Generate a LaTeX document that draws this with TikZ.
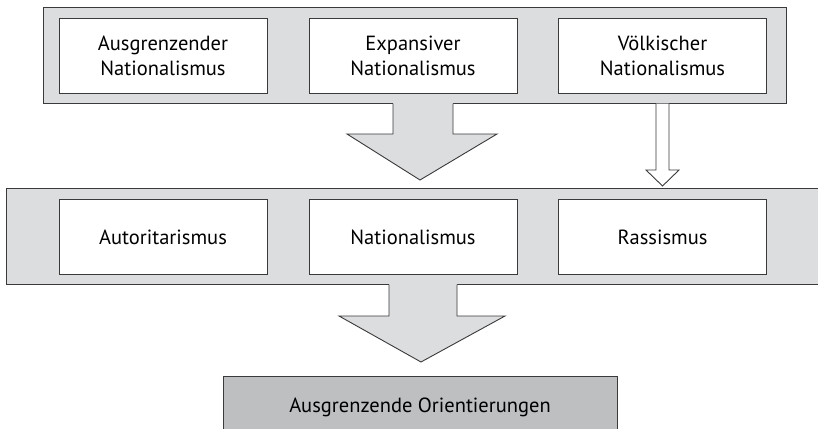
\documentclass[tikz,border=0pt]{standalone}
\usepackage{fontspec}
\setmainfont{PT Sans}
\definecolor{panelgray}{HTML}{DCDDDF}
\definecolor{resultgray}{HTML}{BEBFC1}
\definecolor{linegray}{HTML}{3A3A3A}
\tikzset{
  panel/.style={draw=linegray, fill=panelgray, line width=0.9pt, rectangle,
    inner sep=0pt},
  itembox/.style={draw=linegray, fill=white, line width=0.9pt, rectangle,
    minimum width=208pt, minimum height=75pt, align=center,
    font=\fontsize{20.5}{25}\selectfont},
  resultbox/.style={draw=linegray, fill=resultgray, line width=0.9pt,
    minimum width=394pt, minimum height=62pt, anchor=north,
    font=\fontsize{20.5}{25}\selectfont},
  blockarrow/.style={fill=panelgray},
  blockline/.style={draw=linegray, line width=0.9pt, line join=miter},
}
\begin{document}
\begin{tikzpicture}[x=1pt, y=-1pt]
  \useasboundingbox (0,0) rectangle (818,428);

  % 1. Rahmen (oben, Mitte)
  \node[panel, minimum width=743pt, minimum height=96pt] (top) at (414.5,55) {};
  \node[panel, minimum width=824pt, minimum height=96pt] (mid) at (418,236) {};

  % 2. Kaesten oben
  \node[itembox] (ausgrenz) at (163,55.5) {Ausgrenzender\\Nationalismus};
  \node[itembox] (expans)   at (413,55.5) {Expansiver\\Nationalismus};
  \node[itembox] (voelk)    at (662.5,55.5) {Völkischer\\Nationalismus};

  % 3. Kaesten Mitte
  \node[itembox] (autorit) at (163,237) {Autoritarismus};
  \node[itembox] (nation)  at (413,237) {Nationalismus};
  \node[itembox] (rass)    at (662.5,237) {Rassismus};

  % 4. Ergebnis
  \node[resultbox] (orient) at (420,375.5) {Ausgrenzende Orientierungen};

  % 5. Blockpfeil oben -> Mitte
  \fill[blockarrow] (393,103) -- (393,134) -- (347,134) -- (420,180)
    -- (497,134) -- (453,134) -- (453,103) -- cycle;
  \draw[blockline] (393,103.5) -- (393,134) -- (347,134) -- (420,180)
    -- (497,134) -- (453,134) -- (453,103.5);

  % 6. Hohlpfeil Voelkischer Nationalismus -> Rassismus
  \draw[blockline, fill=white] (656,103.5) -- (656,170) -- (646,170)
    -- (662.5,186) -- (679,170) -- (669,170) -- (669,103.5);

  % 7. Blockpfeil Mitte -> Ergebnis
  \fill[blockarrow] (389,284) -- (389,316) -- (339,316) -- (421,362)
    -- (505,316) -- (457,316) -- (457,284) -- cycle;
  \draw[blockline] (389,284.5) -- (389,316) -- (339,316) -- (421,362)
    -- (505,316) -- (457,316) -- (457,284.5);
\end{tikzpicture}
\end{document}
